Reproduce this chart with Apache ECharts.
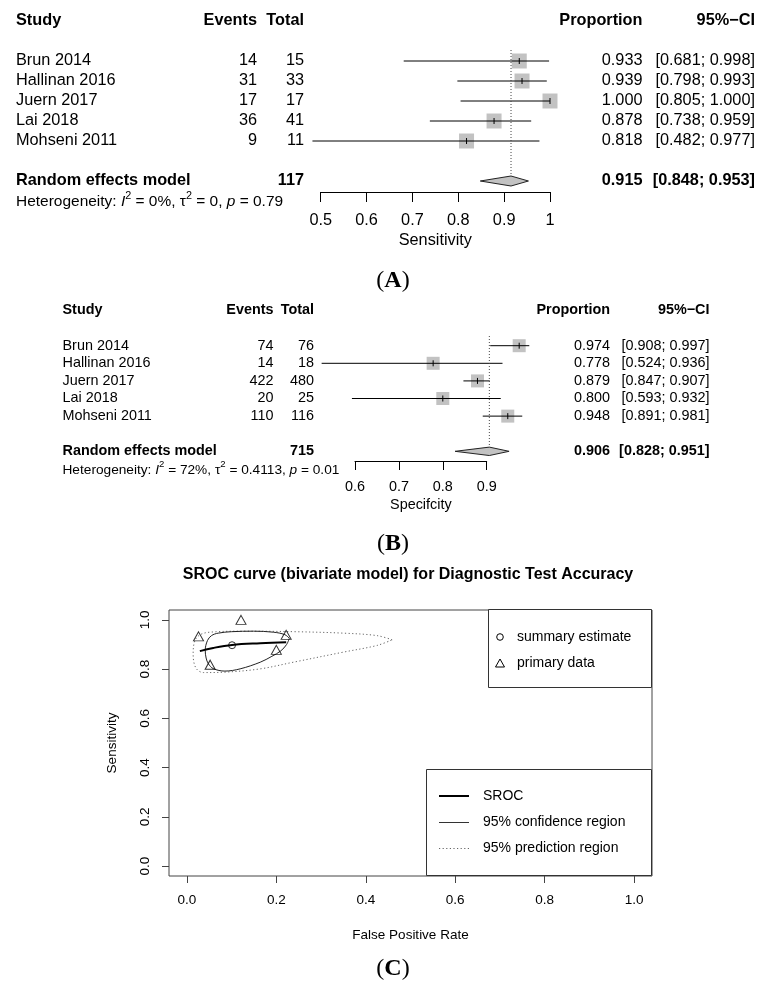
<!DOCTYPE html>
<html><head><meta charset="utf-8">
<script src="https://cdn.jsdelivr.net/npm/echarts@6/dist/echarts.min.js"></script>
<style>html,body{margin:0;padding:0;background:#fff}#c{width:758px;height:983px}</style>
</head><body><div id="c"></div>
<script>
// ---------- data ----------
const studies = ['Brun 2014', 'Hallinan 2016', 'Juern 2017', 'Lai 2018', 'Mohseni 2011'];
const headerLabels = ['Study', 'Events', 'Total', 'Proportion', '95%\u2212CI'];
const pooledLabel = 'Random effects model';

// Panel A: sensitivity
const sensEvents = [14, 31, 17, 36, 9];
const sensTotal = [15, 33, 17, 41, 11];
const sensProp = [0.933, 0.939, 1.000, 0.878, 0.818];
const sensLower = [0.681, 0.798, 0.805, 0.738, 0.482];
const sensUpper = [0.998, 0.993, 1.000, 0.959, 0.977];
const sensPooled = [0.915, 0.848, 0.953];      // estimate, lower, upper
const sensPooledTotal = 117;
const sensHet = ['0%', '0', '0.79'];           // I2, tau2, p
const sensTicks = [0.5, 0.6, 0.7, 0.8, 0.9, 1];

// Panel B: specificity
const specEvents = [74, 14, 422, 20, 110];
const specTotal = [76, 18, 480, 25, 116];
const specProp = [0.974, 0.778, 0.879, 0.800, 0.948];
const specLower = [0.908, 0.524, 0.847, 0.593, 0.891];
const specUpper = [0.997, 0.936, 0.907, 0.932, 0.981];
const specPooled = [0.906, 0.828, 0.951];
const specPooledTotal = 715;
const specHet = ['72%', '0.4113', '0.01'];
const specTicks = [0.6, 0.7, 0.8, 0.9];

// Panel C: SROC
const primaryFPR = [0.026, 0.222, 0.121, 0.200, 0.052];
const primarySens = [0.933, 0.939, 1.000, 0.878, 0.818];
const summaryFPR = [0.101];
const summarySens = [0.897];
const srocFPR = [0.029, 0.059, 0.101, 0.164, 0.222];
const srocSens = [0.873, 0.886, 0.898, 0.905, 0.909];
const confFPR = [0.229, 0.219, 0.193, 0.149, 0.100, 0.070, 0.055, 0.046, 0.041, 0.043, 0.048, 0.059, 0.085, 0.119, 0.164, 0.190, 0.210, 0.223, 0.229];
const confSens = [0.925, 0.940, 0.950, 0.954, 0.952, 0.946, 0.936, 0.916, 0.876, 0.845, 0.822, 0.802, 0.792, 0.801, 0.828, 0.852, 0.874, 0.900, 0.925];
const predFPR = [0.459, 0.425, 0.350, 0.238, 0.126, 0.052, 0.030, 0.018, 0.014, 0.020, 0.037, 0.089, 0.164, 0.238, 0.350, 0.425, 0.459];
const predSens = [0.919, 0.936, 0.946, 0.952, 0.954, 0.950, 0.940, 0.916, 0.862, 0.805, 0.786, 0.788, 0.801, 0.828, 0.869, 0.896, 0.919];
const rocTicks = [0, 0.2, 0.4, 0.6, 0.8, 1.0];
const legendTop = ['summary estimate', 'primary data'];
const legendBottom = ['SROC', '95% confidence region', '95% prediction region'];
const titleC = 'SROC curve (bivariate model) for Diagnostic Test Accuracy';
const panelLetters = ['A', 'B', 'C'];

// ---------- helpers ----------
const FONT = '"Liberation Sans", Arial, Helvetica, sans-serif';
const SERIF = '"Liberation Serif", "Times New Roman", serif';

function T(x, y, text, size, align, bold, extra) {
  const style = Object.assign({
    text: String(text), fill: '#000', textFill: '#000', fontSize: size, fontFamily: FONT,
    fontWeight: bold ? 'bold' : 'normal', align: align, textAlign: align,
    verticalAlign: 'middle', textVerticalAlign: 'middle'
  }, extra || {});
  return { type: 'text', x: x, y: y, style: style };
}

function hetText(het) {
  return 'Heterogeneity: {i|I}{s|2} = ' + het[0] + ', \u03c4{s|2} = ' + het[1] + ', {i|p} = ' + het[2];
}

function forestSeries(ax, cols, fs, sq, dh, ev, tot, prop, lo, hi, pooled, pooledTotal, het) {
  const base = { type: 'custom', xAxisIndex: ax, yAxisIndex: ax, clip: false, silent: true };
  const hs = fs * 0.95;
  const header = Object.assign({}, base, {
    data: [[pooled[0], -2]],
    renderItem: function (p, api) {
      const y = api.coord([pooled[0], -2])[1];
      return { type: 'group', children: [
        T(cols[0], y, headerLabels[0], fs, 'left', true),
        T(cols[1], y, headerLabels[1], fs, 'right', true),
        T(cols[2], y, headerLabels[2], fs, 'right', true),
        T(cols[3], y, headerLabels[3], fs, 'right', true),
        T(cols[4], y, headerLabels[4], fs, 'right', true)
      ]};
    }
  });
  const rows = Object.assign({}, base, {
    data: prop.map(function (v, i) { return [v, i]; }),
    renderItem: function (p, api) {
      const i = p.dataIndex;
      const c = api.coord([prop[i], i]);
      const y = c[1];
      const xl = api.coord([lo[i], i])[0];
      const xh = api.coord([hi[i], i])[0];
      return { type: 'group', children: [
        { type: 'rect', shape: { x: c[0] - sq / 2, y: y - sq / 2, width: sq, height: sq }, style: { fill: '#c2c2c2' } },
        { type: 'line', shape: { x1: xl, y1: y, x2: xh, y2: y }, style: { stroke: '#000', lineWidth: 1 } },
        { type: 'line', shape: { x1: c[0], y1: y - 3, x2: c[0], y2: y + 3 }, style: { stroke: '#000', lineWidth: 1 } },
        T(cols[0], y, studies[i], fs, 'left'),
        T(cols[1], y, ev[i], fs, 'right'),
        T(cols[2], y, tot[i], fs, 'right'),
        T(cols[3], y, prop[i].toFixed(3), fs, 'right'),
        T(cols[4], y, '[' + lo[i].toFixed(3) + '; ' + hi[i].toFixed(3) + ']', fs, 'right')
      ]};
    }
  });
  const pool = Object.assign({}, base, {
    data: [[pooled[0], 6]],
    renderItem: function (p, api) {
      const c = api.coord([pooled[0], 6]);
      const y = c[1];
      const top = api.coord([pooled[0], -0.55]);
      const xl = api.coord([pooled[1], 6])[0];
      const xh = api.coord([pooled[2], 6])[0];
      const yh = api.coord([pooled[0], 7.05])[1];
      return { type: 'group', children: [
        { type: 'line', shape: { x1: c[0], y1: top[1], x2: c[0], y2: y }, style: { stroke: '#444', lineWidth: 1, lineDash: [1, 2] } },
        { type: 'polygon', shape: { points: [[xl, y], [c[0], y - dh], [xh, y], [c[0], y + dh]] }, style: { fill: '#c2c2c2', stroke: '#222', lineWidth: 1 } },
        T(cols[0], y, pooledLabel, fs, 'left', true),
        T(cols[2], y, pooledTotal, fs, 'right', true),
        T(cols[3], y, pooled[0].toFixed(3), fs, 'right', true),
        T(cols[4], y, '[' + pooled[1].toFixed(3) + '; ' + pooled[2].toFixed(3) + ']', fs, 'right', true),
        T(cols[0], yh, hetText(het), hs, 'left', false, {
          lineHeight: hs * 1.5,
          rich: {
            i: { fontStyle: 'italic', fontSize: hs, fontFamily: FONT, lineHeight: hs * 1.5 },
            s: { fontSize: hs * 0.7, fontFamily: FONT, verticalAlign: 'top', lineHeight: hs * 0.9 }
          }
        })
      ]};
    }
  });
  return [header, rows, pool];
}

function forestX(grid, ticks, min, max, fs, tickLen, margin, name, nameGap) {
  return {
    gridIndex: grid, type: 'value', min: min, max: max,
    axisLine: { show: true, onZero: false, lineStyle: { color: '#000', width: 1 } },
    axisTick: { show: true, length: tickLen, customValues: ticks, lineStyle: { color: '#000', width: 1 } },
    axisLabel: { show: true, customValues: ticks, fontSize: fs, fontFamily: FONT, color: '#000', margin: margin,
      formatter: function (v) { return String(Math.round(v * 10) / 10); } },
    splitLine: { show: false },
    name: name, nameLocation: 'middle', nameGap: nameGap,
    nameTextStyle: { fontSize: fs, fontFamily: FONT, color: '#000' }
  };
}

function forestY(grid) {
  return { gridIndex: grid, type: 'value', min: -1, max: 6.55, inverse: true, show: false };
}

const colsA = [16, 257, 304, 642.5, 755];
const colsB = [62.5, 273.5, 314, 610, 709.5];

const series = []
  .concat(forestSeries(0, colsA, 16.3, 15, 5, sensEvents, sensTotal, sensProp, sensLower, sensUpper, sensPooled, sensPooledTotal, sensHet))
  .concat(forestSeries(1, colsB, 14.4, 13, 4.2, specEvents, specTotal, specProp, specLower, specUpper, specPooled, specPooledTotal, specHet))
  .concat([
    { type: 'line', xAxisIndex: 2, yAxisIndex: 2, name: legendBottom[2], symbol: 'none', smooth: 0.35, silent: true,
      data: predFPR.map(function (v, i) { return [v, predSens[i]]; }),
      lineStyle: { color: '#666', width: 1, type: [1.2, 2.4] }, z: 2 },
    { type: 'line', xAxisIndex: 2, yAxisIndex: 2, name: legendBottom[1], symbol: 'none', smooth: 0.35, silent: true,
      data: confFPR.map(function (v, i) { return [v, confSens[i]]; }),
      lineStyle: { color: '#222', width: 1 }, z: 3 },
    { type: 'line', xAxisIndex: 2, yAxisIndex: 2, name: legendBottom[0], symbol: 'none', smooth: 0.4, silent: true,
      data: srocFPR.map(function (v, i) { return [v, srocSens[i]]; }),
      lineStyle: { color: '#000', width: 2 }, z: 4 },
    { type: 'scatter', xAxisIndex: 2, yAxisIndex: 2, name: legendTop[1], symbol: 'triangle', symbolSize: [10, 9], silent: true,
      data: primaryFPR.map(function (v, i) { return [v, primarySens[i]]; }),
      itemStyle: { color: 'rgba(0,0,0,0)', borderColor: '#000', borderWidth: 1 }, z: 5 },
    { type: 'scatter', xAxisIndex: 2, yAxisIndex: 2, name: legendTop[0], symbol: 'circle', symbolSize: 7, silent: true,
      data: summaryFPR.map(function (v, i) { return [v, summarySens[i]]; }),
      itemStyle: { color: 'rgba(0,0,0,0)', borderColor: '#000', borderWidth: 1 }, z: 5 }
  ]);

function panelLabel(letter, y) {
  return { type: 'text', x: 393, y: y, z: 10, style: {
    text: '{p|(}{b|' + letter + '}{p|)}', align: 'center', textAlign: 'center', verticalAlign: 'middle', textVerticalAlign: 'middle',
    fill: '#000', textFill: '#000',
    rich: { p: { fontFamily: SERIF, fontSize: 24, fill: '#000' }, b: { fontFamily: SERIF, fontSize: 24, fontWeight: 'bold', fill: '#000' } }
  }};
}

function gtext(x, y, text, size, align, bold) {
  return { type: 'text', x: x, y: y, z: 10, style: {
    text: text, fill: '#000', textFill: '#000', fontSize: size, fontFamily: FONT, fontWeight: bold ? 'bold' : 'normal',
    align: align, textAlign: align, verticalAlign: 'middle', textVerticalAlign: 'middle' } };
}

const graphics = [
  panelLabel(panelLetters[0], 281),
  panelLabel(panelLetters[1], 544),
  panelLabel(panelLetters[2], 969),
  gtext(408, 575, titleC, 16, 'center', true),
  // legend box 1
  { type: 'rect', z: 10, shape: { x: 488.5, y: 609.5, width: 163, height: 78 }, style: { fill: '#fff', stroke: '#333', lineWidth: 1 } },
  { type: 'circle', z: 11, shape: { cx: 500, cy: 637, r: 3.3 }, style: { fill: 'none', stroke: '#000', lineWidth: 1 } },
  { type: 'polygon', z: 11, shape: { points: [[500, 659], [504.5, 667], [495.5, 667]] }, style: { fill: 'none', stroke: '#000', lineWidth: 1 } },
  gtext(517, 637, legendTop[0], 14, 'left'),
  gtext(517, 663, legendTop[1], 14, 'left'),
  // legend box 2
  { type: 'rect', z: 10, shape: { x: 426.5, y: 769.5, width: 225, height: 106 }, style: { fill: '#fff', stroke: '#333', lineWidth: 1 } },
  { type: 'line', z: 11, shape: { x1: 439, y1: 796, x2: 469, y2: 796 }, style: { stroke: '#000', lineWidth: 2 } },
  { type: 'line', z: 11, shape: { x1: 439, y1: 822.5, x2: 469, y2: 822.5 }, style: { stroke: '#333', lineWidth: 1 } },
  { type: 'line', z: 11, shape: { x1: 439, y1: 848.5, x2: 469, y2: 848.5 }, style: { stroke: '#666', lineWidth: 1, lineDash: [1.2, 2.4] } },
  gtext(483, 796, legendBottom[0], 14, 'left'),
  gtext(483, 822, legendBottom[1], 14, 'left'),
  gtext(483, 848, legendBottom[2], 14, 'left')
];

const option = {
  animation: false,
  backgroundColor: '#fff',
  textStyle: { fontFamily: FONT },
  grid: [
    { left: 320.7, top: 41, width: 229.3, height: 151, outerBoundsMode: 'none', containLabel: false },
    { left: 355, top: 328.1, width: 131.7, height: 132.9, outerBoundsMode: 'none', containLabel: false },
    { left: 169, top: 610, width: 483, height: 266, outerBoundsMode: 'none', containLabel: false,
      show: true, borderColor: '#444', borderWidth: 1, backgroundColor: 'rgba(0,0,0,0)' }
  ],
  xAxis: [
    forestX(0, sensTicks, 0.5, 1, 16.3, 10, 21, 'Sensitivity', 41),
    forestX(1, specTicks, 0.6, 0.9, 14.4, 9, 19, 'Specifcity', 37),
    { gridIndex: 2, type: 'value', min: -0.04, max: 1.04,
      axisLine: { show: false, onZero: false },
      axisTick: { show: true, length: 7, customValues: rocTicks, lineStyle: { color: '#444' } },
      axisLabel: { show: true, customValues: rocTicks, fontSize: 13.5, fontFamily: FONT, color: '#000', margin: 17,
        formatter: function (v) { return v.toFixed(1); } },
      splitLine: { show: false },
      name: 'False Positive Rate', nameLocation: 'middle', nameGap: 52,
      nameTextStyle: { fontSize: 13.5, fontFamily: FONT, color: '#000' } }
  ],
  yAxis: [
    forestY(0),
    forestY(1),
    { gridIndex: 2, type: 'value', min: -0.04, max: 1.04,
      axisLine: { show: false, onZero: false },
      axisTick: { show: true, length: 7, customValues: rocTicks, lineStyle: { color: '#444' } },
      axisLabel: { show: true, customValues: rocTicks, rotate: 90, fontSize: 13.5, fontFamily: FONT, color: '#000', margin: 17,
        formatter: function (v) { return v.toFixed(1); } },
      splitLine: { show: false },
      name: 'Sensitivity', nameLocation: 'middle', nameGap: 50, nameRotate: 90,
      nameTextStyle: { fontSize: 13.5, fontFamily: FONT, color: '#000' } }
  ],
  series: series,
  graphic: graphics
};

const chart = echarts.init(document.getElementById('c'), null, { renderer: 'canvas', width: 758, height: 983 });
chart.setOption(option);
</script>
</body></html>
